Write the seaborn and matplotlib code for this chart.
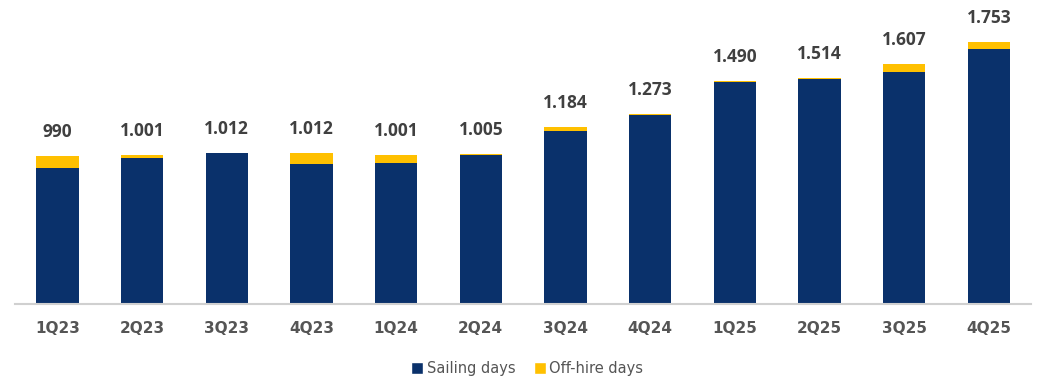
import matplotlib
matplotlib.use("Agg")
import matplotlib.pyplot as plt
import seaborn as sns
import pandas as pd
from matplotlib.patches import Patch

quarters = ["1Q23", "2Q23", "3Q23", "4Q23", "1Q24", "2Q24",
            "3Q24", "4Q24", "1Q25", "2Q25", "3Q25", "4Q25"]
total_days = [990, 1001, 1012, 1012, 1001, 1005, 1184, 1273, 1490, 1514, 1607, 1753]
offhire_days = [76, 22, 0, 71, 58, 9, 27, 7, 6, 9, 54, 45]
sailing_days = [t - o for t, o in zip(total_days, offhire_days)]

df = pd.DataFrame({"quarter": quarters, "total": total_days,
                   "sailing": sailing_days, "offhire": offhire_days})

NAVY = "#0A316B"
GOLD = "#FFC000"
LABEL_GRAY = "#404040"
TICK_GRAY = "#555555"

sns.set_theme(style="white")
fig = plt.figure(figsize=(10.38, 3.76), dpi=100)
ax = fig.add_axes([0.0145, 0.1907, 0.979, 0.76])

# stacked bars: full total in gold, sailing days drawn over it in navy
sns.barplot(data=df, x="quarter", y="total", color=GOLD, width=0.5,
            saturation=1, linewidth=0, ax=ax)
sns.barplot(data=df, x="quarter", y="sailing", color=NAVY, width=0.5,
            saturation=1, linewidth=0, ax=ax)

ax.set_ylim(0, 1910)
ax.set_xlim(-0.5, len(quarters) - 0.5)
ax.set_xlabel("")
ax.set_ylabel("")
ax.set_yticks([])
for side in ["top", "right", "left"]:
    ax.spines[side].set_visible(False)
ax.spines["bottom"].set_color("#D0D0D0")
ax.spines["bottom"].set_linewidth(1.5)
ax.tick_params(axis="x", length=0, pad=12)
for lbl in ax.get_xticklabels():
    lbl.set_fontfamily("DejaVu Sans")
    lbl.set_fontweight("bold")
    lbl.set_fontsize(11)
    lbl.set_color(TICK_GRAY)

# total value labels in European thousands format
for i, t in enumerate(total_days):
    txt = f"{t:,}".replace(",", ".")
    ax.annotate(txt, xy=(i, t), xytext=(0, 15), textcoords="offset pixels",
                ha="center", va="bottom", fontsize=12.5, fontweight="bold",
                color=LABEL_GRAY, family="Open Sans")

handles = [Patch(facecolor=NAVY, label="Sailing days"),
           Patch(facecolor=GOLD, label="Off-hire days")]
fig.legend(handles=handles, loc="lower center", bbox_to_anchor=(0.508, -0.035),
           ncol=2, frameon=False, handlelength=0.8, handleheight=0.8,
           handletextpad=0.25, columnspacing=1.3,
           prop={"family": "DejaVu Sans", "size": 10.5},
           labelcolor=TICK_GRAY)

fig.savefig("out.png", dpi=100)
